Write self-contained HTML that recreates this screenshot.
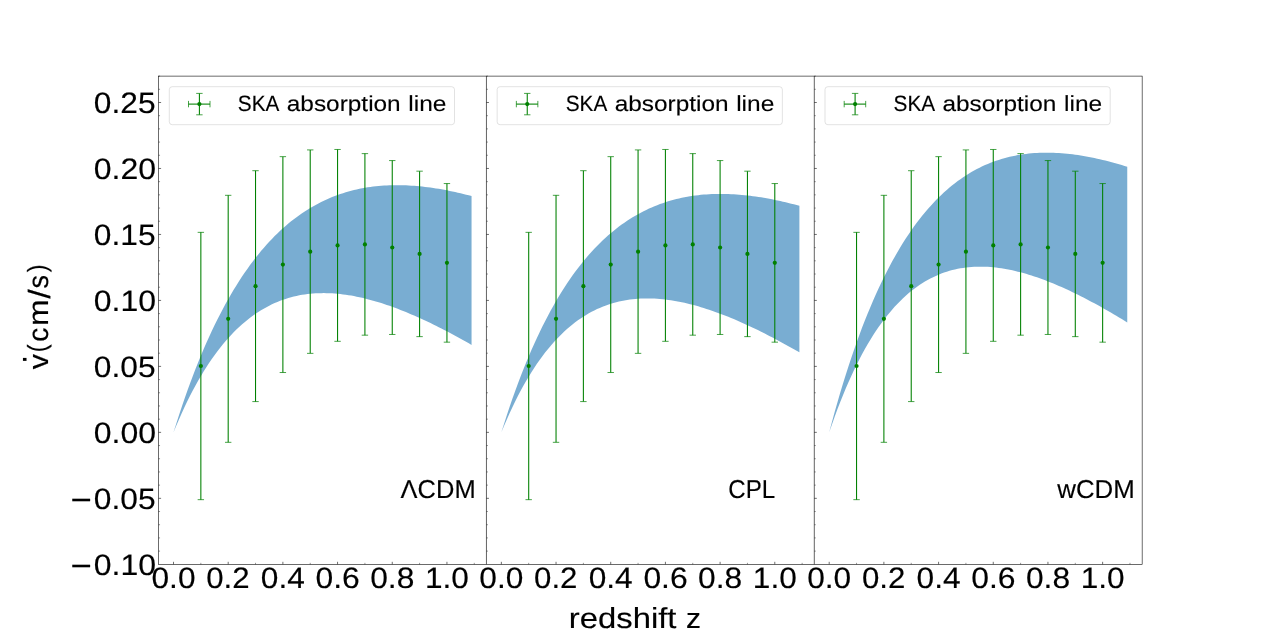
<!DOCTYPE html>
<html><head><meta charset="utf-8"><title>SKA absorption line</title>
<style>html,body{margin:0;padding:0;background:#fff;}body{width:1269px;height:634px;position:relative;overflow:hidden;will-change:transform;font-family:"Liberation Sans",sans-serif;}</style>
</head><body>
<svg width="1269" height="634" viewBox="0 0 1269 634" style="display:block;position:absolute;left:0;top:0;will-change:transform;text-rendering:geometricPrecision;font-family:'Liberation Sans',sans-serif">
<rect x="0" y="0" width="1269" height="634" fill="#ffffff"/>
<path d="M173.50 432.35 L176.24 423.63 L178.97 415.17 L181.71 406.95 L184.44 398.97 L187.17 391.23 L189.91 383.71 L192.64 376.42 L195.38 369.34 L198.11 362.47 L200.85 355.81 L203.58 349.34 L206.31 343.06 L209.05 336.98 L211.78 331.07 L214.52 325.34 L217.25 319.79 L219.99 314.40 L222.72 309.18 L225.46 304.11 L228.19 299.21 L230.92 294.45 L233.66 289.84 L236.39 285.38 L239.13 281.05 L241.86 276.86 L244.60 272.81 L247.33 268.88 L250.06 265.09 L252.80 261.41 L255.53 257.86 L258.27 254.42 L261.00 251.10 L263.74 247.88 L266.47 244.78 L269.20 241.79 L271.94 238.90 L274.67 236.11 L277.41 233.41 L280.14 230.82 L282.88 228.32 L285.61 225.91 L288.35 223.59 L291.08 221.36 L293.81 219.21 L296.55 217.15 L299.28 215.17 L302.02 213.27 L304.75 211.45 L307.49 209.70 L310.22 208.03 L312.95 206.43 L315.69 204.90 L318.42 203.44 L321.16 202.04 L323.89 200.72 L326.63 199.46 L329.36 198.26 L332.10 197.12 L334.83 196.04 L337.56 195.03 L340.30 194.07 L343.03 193.16 L345.77 192.31 L348.50 191.52 L351.24 190.78 L353.97 190.08 L356.70 189.44 L359.44 188.85 L362.17 188.31 L364.91 187.81 L367.64 187.36 L370.38 186.96 L373.11 186.59 L375.85 186.27 L378.58 186.00 L381.31 185.76 L384.05 185.57 L386.78 185.41 L389.52 185.29 L392.25 185.21 L394.99 185.17 L397.72 185.16 L400.45 185.19 L403.19 185.25 L405.92 185.35 L408.66 185.48 L411.39 185.64 L414.13 185.83 L416.86 186.05 L419.59 186.31 L422.33 186.59 L425.06 186.90 L427.80 187.24 L430.53 187.61 L433.27 188.00 L436.00 188.42 L438.74 188.87 L441.47 189.34 L444.20 189.84 L446.94 190.36 L449.67 190.91 L452.41 191.48 L455.14 192.07 L457.88 192.68 L460.61 193.32 L463.34 193.98 L466.08 194.66 L468.81 195.35 L471.55 196.07 L471.55 344.88 L468.81 343.32 L466.08 341.78 L463.34 340.25 L460.61 338.73 L457.88 337.23 L455.14 335.74 L452.41 334.27 L449.67 332.81 L446.94 331.37 L444.20 329.95 L441.47 328.55 L438.74 327.16 L436.00 325.80 L433.27 324.45 L430.53 323.12 L427.80 321.81 L425.06 320.52 L422.33 319.25 L419.59 318.00 L416.86 316.78 L414.13 315.58 L411.39 314.40 L408.66 313.24 L405.92 312.11 L403.19 311.00 L400.45 309.92 L397.72 308.86 L394.99 307.83 L392.25 306.83 L389.52 305.86 L386.78 304.91 L384.05 304.00 L381.31 303.11 L378.58 302.26 L375.85 301.44 L373.11 300.65 L370.38 299.89 L367.64 299.17 L364.91 298.49 L362.17 297.84 L359.44 297.23 L356.70 296.65 L353.97 296.12 L351.24 295.62 L348.50 295.17 L345.77 294.75 L343.03 294.38 L340.30 294.06 L337.56 293.78 L334.83 293.55 L332.10 293.36 L329.36 293.23 L326.63 293.14 L323.89 293.11 L321.16 293.13 L318.42 293.20 L315.69 293.33 L312.95 293.52 L310.22 293.77 L307.49 294.07 L304.75 294.44 L302.02 294.87 L299.28 295.37 L296.55 295.94 L293.81 296.57 L291.08 297.27 L288.35 298.05 L285.61 298.90 L282.88 299.83 L280.14 300.84 L277.41 301.93 L274.67 303.10 L271.94 304.35 L269.20 305.69 L266.47 307.13 L263.74 308.65 L261.00 310.27 L258.27 311.99 L255.53 313.81 L252.80 315.73 L250.06 317.75 L247.33 319.89 L244.60 322.13 L241.86 324.49 L239.13 326.97 L236.39 329.57 L233.66 332.30 L230.92 335.15 L228.19 338.14 L225.46 341.26 L222.72 344.52 L219.99 347.92 L217.25 351.47 L214.52 355.18 L211.78 359.04 L209.05 363.06 L206.31 367.24 L203.58 371.60 L200.85 376.13 L198.11 380.84 L195.38 385.74 L192.64 390.84 L189.91 396.12 L187.17 401.62 L184.44 407.32 L181.71 413.24 L178.97 419.38 L176.24 425.75 L173.50 432.35 Z" fill="#1f77b4" fill-opacity="0.6" stroke="none"/>
<g stroke="#008000" fill="none"><line x1="200.85" y1="232.35" x2="200.85" y2="499.67" stroke-width="1.07"/><line x1="197.65" y1="232.35" x2="204.05" y2="232.35" stroke-width="0.72"/><line x1="197.65" y1="499.67" x2="204.05" y2="499.67" stroke-width="0.72"/><circle cx="200.85" cy="366.01" r="2.1" fill="#008000" stroke="none"/><line x1="228.19" y1="195.32" x2="228.19" y2="442.32" stroke-width="1.07"/><line x1="224.99" y1="195.32" x2="231.39" y2="195.32" stroke-width="0.72"/><line x1="224.99" y1="442.32" x2="231.39" y2="442.32" stroke-width="0.72"/><circle cx="228.19" cy="318.82" r="2.1" fill="#008000" stroke="none"/><line x1="255.53" y1="170.69" x2="255.53" y2="401.59" stroke-width="1.07"/><line x1="252.33" y1="170.69" x2="258.73" y2="170.69" stroke-width="0.72"/><line x1="252.33" y1="401.59" x2="258.73" y2="401.59" stroke-width="0.72"/><circle cx="255.53" cy="286.14" r="2.1" fill="#008000" stroke="none"/><line x1="282.88" y1="156.65" x2="282.88" y2="372.52" stroke-width="1.07"/><line x1="279.68" y1="156.65" x2="286.08" y2="156.65" stroke-width="0.72"/><line x1="279.68" y1="372.52" x2="286.08" y2="372.52" stroke-width="0.72"/><circle cx="282.88" cy="264.59" r="2.1" fill="#008000" stroke="none"/><line x1="310.22" y1="149.91" x2="310.22" y2="353.37" stroke-width="1.07"/><line x1="307.02" y1="149.91" x2="313.42" y2="149.91" stroke-width="0.72"/><line x1="307.02" y1="353.37" x2="313.42" y2="353.37" stroke-width="0.72"/><circle cx="310.22" cy="251.64" r="2.1" fill="#008000" stroke="none"/><line x1="337.56" y1="149.47" x2="337.56" y2="341.32" stroke-width="1.07"/><line x1="334.36" y1="149.47" x2="340.76" y2="149.47" stroke-width="0.72"/><line x1="334.36" y1="341.32" x2="340.76" y2="341.32" stroke-width="0.72"/><circle cx="337.56" cy="245.40" r="2.1" fill="#008000" stroke="none"/><line x1="364.91" y1="153.62" x2="364.91" y2="335.18" stroke-width="1.07"/><line x1="361.71" y1="153.62" x2="368.11" y2="153.62" stroke-width="0.72"/><line x1="361.71" y1="335.18" x2="368.11" y2="335.18" stroke-width="0.72"/><circle cx="364.91" cy="244.40" r="2.1" fill="#008000" stroke="none"/><line x1="392.25" y1="160.57" x2="392.25" y2="334.48" stroke-width="1.07"/><line x1="389.05" y1="160.57" x2="395.45" y2="160.57" stroke-width="0.72"/><line x1="389.05" y1="334.48" x2="395.45" y2="334.48" stroke-width="0.72"/><circle cx="392.25" cy="247.52" r="2.1" fill="#008000" stroke="none"/><line x1="419.59" y1="171.18" x2="419.59" y2="336.64" stroke-width="1.07"/><line x1="416.39" y1="171.18" x2="422.79" y2="171.18" stroke-width="0.72"/><line x1="416.39" y1="336.64" x2="422.79" y2="336.64" stroke-width="0.72"/><circle cx="419.59" cy="253.91" r="2.1" fill="#008000" stroke="none"/><line x1="446.94" y1="183.56" x2="446.94" y2="342.16" stroke-width="1.07"/><line x1="443.74" y1="183.56" x2="450.14" y2="183.56" stroke-width="0.72"/><line x1="443.74" y1="342.16" x2="450.14" y2="342.16" stroke-width="0.72"/><circle cx="446.94" cy="262.86" r="2.1" fill="#008000" stroke="none"/></g>
<path d="M501.35 432.35 L504.09 423.64 L506.82 415.20 L509.56 407.01 L512.29 399.08 L515.02 391.40 L517.76 383.96 L520.49 376.74 L523.23 369.75 L525.96 362.98 L528.70 356.42 L531.43 350.06 L534.16 343.90 L536.90 337.94 L539.63 332.16 L542.37 326.56 L545.10 321.14 L547.84 315.89 L550.57 310.81 L553.31 305.88 L556.04 301.12 L558.77 296.51 L561.51 292.05 L564.24 287.73 L566.98 283.56 L569.71 279.52 L572.45 275.62 L575.18 271.84 L577.91 268.19 L580.65 264.67 L583.38 261.26 L586.12 257.98 L588.85 254.80 L591.59 251.74 L594.32 248.78 L597.05 245.93 L599.79 243.18 L602.52 240.54 L605.26 237.99 L607.99 235.53 L610.73 233.17 L613.46 230.89 L616.20 228.71 L618.93 226.61 L621.66 224.59 L624.40 222.66 L627.13 220.81 L629.87 219.03 L632.60 217.33 L635.34 215.70 L638.07 214.15 L640.80 212.66 L643.54 211.25 L646.27 209.90 L649.01 208.62 L651.74 207.40 L654.48 206.24 L657.21 205.14 L659.95 204.11 L662.68 203.13 L665.41 202.21 L668.15 201.34 L670.88 200.53 L673.62 199.77 L676.35 199.07 L679.09 198.41 L681.82 197.81 L684.55 197.25 L687.29 196.74 L690.02 196.27 L692.76 195.85 L695.49 195.47 L698.23 195.14 L700.96 194.85 L703.70 194.60 L706.43 194.39 L709.16 194.22 L711.90 194.08 L714.63 193.99 L717.37 193.93 L720.10 193.91 L722.84 193.92 L725.57 193.96 L728.30 194.04 L731.04 194.16 L733.77 194.30 L736.51 194.48 L739.24 194.69 L741.98 194.92 L744.71 195.19 L747.44 195.48 L750.18 195.81 L752.91 196.16 L755.65 196.53 L758.38 196.94 L761.12 197.37 L763.85 197.82 L766.59 198.30 L769.32 198.80 L772.05 199.33 L774.79 199.88 L777.52 200.45 L780.26 201.05 L782.99 201.66 L785.73 202.30 L788.46 202.96 L791.19 203.63 L793.93 204.33 L796.66 205.05 L799.40 205.79 L799.40 352.37 L796.66 350.80 L793.93 349.24 L791.19 347.70 L788.46 346.17 L785.73 344.66 L782.99 343.16 L780.26 341.67 L777.52 340.20 L774.79 338.75 L772.05 337.31 L769.32 335.89 L766.59 334.48 L763.85 333.09 L761.12 331.73 L758.38 330.37 L755.65 329.04 L752.91 327.73 L750.18 326.43 L747.44 325.16 L744.71 323.91 L741.98 322.68 L739.24 321.47 L736.51 320.28 L733.77 319.12 L731.04 317.98 L728.30 316.86 L725.57 315.77 L722.84 314.70 L720.10 313.66 L717.37 312.65 L714.63 311.67 L711.90 310.71 L709.16 309.78 L706.43 308.88 L703.70 308.01 L700.96 307.17 L698.23 306.37 L695.49 305.60 L692.76 304.86 L690.02 304.15 L687.29 303.48 L684.55 302.85 L681.82 302.26 L679.09 301.70 L676.35 301.18 L673.62 300.71 L670.88 300.27 L668.15 299.88 L665.41 299.53 L662.68 299.23 L659.95 298.97 L657.21 298.76 L654.48 298.59 L651.74 298.48 L649.01 298.42 L646.27 298.41 L643.54 298.46 L640.80 298.56 L638.07 298.72 L635.34 298.93 L632.60 299.21 L629.87 299.55 L627.13 299.95 L624.40 300.42 L621.66 300.95 L618.93 301.56 L616.20 302.23 L613.46 302.98 L610.73 303.80 L607.99 304.70 L605.26 305.68 L602.52 306.74 L599.79 307.88 L597.05 309.11 L594.32 310.43 L591.59 311.84 L588.85 313.34 L586.12 314.94 L583.38 316.63 L580.65 318.43 L577.91 320.34 L575.18 322.35 L572.45 324.47 L569.71 326.71 L566.98 329.07 L564.24 331.55 L561.51 334.15 L558.77 336.88 L556.04 339.75 L553.31 342.75 L550.57 345.89 L547.84 349.18 L545.10 352.61 L542.37 356.21 L539.63 359.96 L536.90 363.87 L534.16 367.96 L531.43 372.22 L528.70 376.66 L525.96 381.28 L523.23 386.10 L520.49 391.11 L517.76 396.33 L515.02 401.77 L512.29 407.42 L509.56 413.29 L506.82 419.40 L504.09 425.75 L501.35 432.35 Z" fill="#1f77b4" fill-opacity="0.6" stroke="none"/>
<g stroke="#008000" fill="none"><line x1="528.70" y1="232.35" x2="528.70" y2="499.67" stroke-width="1.07"/><line x1="525.50" y1="232.35" x2="531.90" y2="232.35" stroke-width="0.72"/><line x1="525.50" y1="499.67" x2="531.90" y2="499.67" stroke-width="0.72"/><circle cx="528.70" cy="366.01" r="2.1" fill="#008000" stroke="none"/><line x1="556.04" y1="195.32" x2="556.04" y2="442.32" stroke-width="1.07"/><line x1="552.84" y1="195.32" x2="559.24" y2="195.32" stroke-width="0.72"/><line x1="552.84" y1="442.32" x2="559.24" y2="442.32" stroke-width="0.72"/><circle cx="556.04" cy="318.82" r="2.1" fill="#008000" stroke="none"/><line x1="583.38" y1="170.69" x2="583.38" y2="401.59" stroke-width="1.07"/><line x1="580.18" y1="170.69" x2="586.58" y2="170.69" stroke-width="0.72"/><line x1="580.18" y1="401.59" x2="586.58" y2="401.59" stroke-width="0.72"/><circle cx="583.38" cy="286.14" r="2.1" fill="#008000" stroke="none"/><line x1="610.73" y1="156.65" x2="610.73" y2="372.52" stroke-width="1.07"/><line x1="607.53" y1="156.65" x2="613.93" y2="156.65" stroke-width="0.72"/><line x1="607.53" y1="372.52" x2="613.93" y2="372.52" stroke-width="0.72"/><circle cx="610.73" cy="264.59" r="2.1" fill="#008000" stroke="none"/><line x1="638.07" y1="149.91" x2="638.07" y2="353.37" stroke-width="1.07"/><line x1="634.87" y1="149.91" x2="641.27" y2="149.91" stroke-width="0.72"/><line x1="634.87" y1="353.37" x2="641.27" y2="353.37" stroke-width="0.72"/><circle cx="638.07" cy="251.64" r="2.1" fill="#008000" stroke="none"/><line x1="665.41" y1="149.47" x2="665.41" y2="341.32" stroke-width="1.07"/><line x1="662.21" y1="149.47" x2="668.61" y2="149.47" stroke-width="0.72"/><line x1="662.21" y1="341.32" x2="668.61" y2="341.32" stroke-width="0.72"/><circle cx="665.41" cy="245.40" r="2.1" fill="#008000" stroke="none"/><line x1="692.76" y1="153.62" x2="692.76" y2="335.18" stroke-width="1.07"/><line x1="689.56" y1="153.62" x2="695.96" y2="153.62" stroke-width="0.72"/><line x1="689.56" y1="335.18" x2="695.96" y2="335.18" stroke-width="0.72"/><circle cx="692.76" cy="244.40" r="2.1" fill="#008000" stroke="none"/><line x1="720.10" y1="160.57" x2="720.10" y2="334.48" stroke-width="1.07"/><line x1="716.90" y1="160.57" x2="723.30" y2="160.57" stroke-width="0.72"/><line x1="716.90" y1="334.48" x2="723.30" y2="334.48" stroke-width="0.72"/><circle cx="720.10" cy="247.52" r="2.1" fill="#008000" stroke="none"/><line x1="747.44" y1="171.18" x2="747.44" y2="336.64" stroke-width="1.07"/><line x1="744.24" y1="171.18" x2="750.64" y2="171.18" stroke-width="0.72"/><line x1="744.24" y1="336.64" x2="750.64" y2="336.64" stroke-width="0.72"/><circle cx="747.44" cy="253.91" r="2.1" fill="#008000" stroke="none"/><line x1="774.79" y1="183.56" x2="774.79" y2="342.16" stroke-width="1.07"/><line x1="771.59" y1="183.56" x2="777.99" y2="183.56" stroke-width="0.72"/><line x1="771.59" y1="342.16" x2="777.99" y2="342.16" stroke-width="0.72"/><circle cx="774.79" cy="262.86" r="2.1" fill="#008000" stroke="none"/></g>
<path d="M829.20 432.35 L831.94 422.07 L834.67 412.10 L837.41 402.44 L840.14 393.07 L842.87 384.00 L845.61 375.20 L848.34 366.68 L851.08 358.42 L853.81 350.41 L856.55 342.66 L859.28 335.15 L862.01 327.87 L864.75 320.82 L867.48 313.99 L870.22 307.38 L872.95 300.98 L875.69 294.78 L878.42 288.78 L881.16 282.97 L883.89 277.35 L886.62 271.91 L889.36 266.65 L892.09 261.56 L894.83 256.65 L897.56 251.89 L900.30 247.29 L903.03 242.85 L905.76 238.56 L908.50 234.42 L911.23 230.42 L913.97 226.56 L916.70 222.84 L919.44 219.24 L922.17 215.78 L924.90 212.44 L927.64 209.23 L930.37 206.13 L933.11 203.15 L935.84 200.28 L938.58 197.53 L941.31 194.88 L944.05 192.34 L946.78 189.89 L949.51 187.55 L952.25 185.31 L954.98 183.16 L957.72 181.10 L960.45 179.13 L963.19 177.25 L965.92 175.46 L968.65 173.74 L971.39 172.11 L974.12 170.56 L976.86 169.09 L979.59 167.69 L982.33 166.37 L985.06 165.12 L987.80 163.94 L990.53 162.82 L993.26 161.78 L996.00 160.80 L998.73 159.88 L1001.47 159.02 L1004.20 158.23 L1006.94 157.49 L1009.67 156.81 L1012.40 156.19 L1015.14 155.63 L1017.87 155.11 L1020.61 154.65 L1023.34 154.24 L1026.08 153.88 L1028.81 153.57 L1031.55 153.30 L1034.28 153.09 L1037.01 152.91 L1039.75 152.79 L1042.48 152.70 L1045.22 152.66 L1047.95 152.65 L1050.69 152.69 L1053.42 152.77 L1056.15 152.88 L1058.89 153.04 L1061.62 153.23 L1064.36 153.45 L1067.09 153.71 L1069.83 154.00 L1072.56 154.33 L1075.29 154.69 L1078.03 155.08 L1080.76 155.50 L1083.50 155.95 L1086.23 156.43 L1088.97 156.94 L1091.70 157.48 L1094.44 158.05 L1097.17 158.64 L1099.90 159.26 L1102.64 159.90 L1105.37 160.57 L1108.11 161.26 L1110.84 161.98 L1113.58 162.72 L1116.31 163.48 L1119.04 164.27 L1121.78 165.08 L1124.51 165.90 L1127.25 166.75 L1127.25 322.41 L1124.51 320.74 L1121.78 319.08 L1119.04 317.43 L1116.31 315.80 L1113.58 314.19 L1110.84 312.59 L1108.11 311.01 L1105.37 309.45 L1102.64 307.90 L1099.90 306.37 L1097.17 304.86 L1094.44 303.36 L1091.70 301.89 L1088.97 300.43 L1086.23 299.00 L1083.50 297.59 L1080.76 296.19 L1078.03 294.82 L1075.29 293.48 L1072.56 292.15 L1069.83 290.85 L1067.09 289.57 L1064.36 288.32 L1061.62 287.10 L1058.89 285.90 L1056.15 284.72 L1053.42 283.58 L1050.69 282.46 L1047.95 281.38 L1045.22 280.32 L1042.48 279.30 L1039.75 278.31 L1037.01 277.35 L1034.28 276.42 L1031.55 275.53 L1028.81 274.67 L1026.08 273.86 L1023.34 273.07 L1020.61 272.33 L1017.87 271.63 L1015.14 270.97 L1012.40 270.35 L1009.67 269.77 L1006.94 269.24 L1004.20 268.76 L1001.47 268.32 L998.73 267.92 L996.00 267.58 L993.26 267.29 L990.53 267.05 L987.80 266.87 L985.06 266.74 L982.33 266.67 L979.59 266.66 L976.86 266.70 L974.12 266.81 L971.39 266.98 L968.65 267.22 L965.92 267.52 L963.19 267.90 L960.45 268.34 L957.72 268.86 L954.98 269.45 L952.25 270.12 L949.51 270.87 L946.78 271.70 L944.05 272.62 L941.31 273.62 L938.58 274.71 L935.84 275.89 L933.11 277.17 L930.37 278.54 L927.64 280.01 L924.90 281.59 L922.17 283.27 L919.44 285.06 L916.70 286.96 L913.97 288.97 L911.23 291.11 L908.50 293.36 L905.76 295.74 L903.03 298.25 L900.30 300.90 L897.56 303.68 L894.83 306.60 L892.09 309.67 L889.36 312.88 L886.62 316.25 L883.89 319.78 L881.16 323.47 L878.42 327.33 L875.69 331.36 L872.95 335.58 L870.22 339.97 L867.48 344.56 L864.75 349.34 L862.01 354.32 L859.28 359.51 L856.55 364.92 L853.81 370.54 L851.08 376.40 L848.34 382.49 L845.61 388.82 L842.87 395.40 L840.14 402.24 L837.41 409.35 L834.67 416.73 L831.94 424.39 L829.20 432.35 Z" fill="#1f77b4" fill-opacity="0.6" stroke="none"/>
<g stroke="#008000" fill="none"><line x1="856.55" y1="232.35" x2="856.55" y2="499.67" stroke-width="1.07"/><line x1="853.35" y1="232.35" x2="859.75" y2="232.35" stroke-width="0.72"/><line x1="853.35" y1="499.67" x2="859.75" y2="499.67" stroke-width="0.72"/><circle cx="856.55" cy="366.01" r="2.1" fill="#008000" stroke="none"/><line x1="883.89" y1="195.32" x2="883.89" y2="442.32" stroke-width="1.07"/><line x1="880.69" y1="195.32" x2="887.09" y2="195.32" stroke-width="0.72"/><line x1="880.69" y1="442.32" x2="887.09" y2="442.32" stroke-width="0.72"/><circle cx="883.89" cy="318.82" r="2.1" fill="#008000" stroke="none"/><line x1="911.23" y1="170.69" x2="911.23" y2="401.59" stroke-width="1.07"/><line x1="908.03" y1="170.69" x2="914.43" y2="170.69" stroke-width="0.72"/><line x1="908.03" y1="401.59" x2="914.43" y2="401.59" stroke-width="0.72"/><circle cx="911.23" cy="286.14" r="2.1" fill="#008000" stroke="none"/><line x1="938.58" y1="156.65" x2="938.58" y2="372.52" stroke-width="1.07"/><line x1="935.38" y1="156.65" x2="941.78" y2="156.65" stroke-width="0.72"/><line x1="935.38" y1="372.52" x2="941.78" y2="372.52" stroke-width="0.72"/><circle cx="938.58" cy="264.59" r="2.1" fill="#008000" stroke="none"/><line x1="965.92" y1="149.91" x2="965.92" y2="353.37" stroke-width="1.07"/><line x1="962.72" y1="149.91" x2="969.12" y2="149.91" stroke-width="0.72"/><line x1="962.72" y1="353.37" x2="969.12" y2="353.37" stroke-width="0.72"/><circle cx="965.92" cy="251.64" r="2.1" fill="#008000" stroke="none"/><line x1="993.26" y1="149.47" x2="993.26" y2="341.32" stroke-width="1.07"/><line x1="990.06" y1="149.47" x2="996.46" y2="149.47" stroke-width="0.72"/><line x1="990.06" y1="341.32" x2="996.46" y2="341.32" stroke-width="0.72"/><circle cx="993.26" cy="245.40" r="2.1" fill="#008000" stroke="none"/><line x1="1020.61" y1="153.62" x2="1020.61" y2="335.18" stroke-width="1.07"/><line x1="1017.41" y1="153.62" x2="1023.81" y2="153.62" stroke-width="0.72"/><line x1="1017.41" y1="335.18" x2="1023.81" y2="335.18" stroke-width="0.72"/><circle cx="1020.61" cy="244.40" r="2.1" fill="#008000" stroke="none"/><line x1="1047.95" y1="160.57" x2="1047.95" y2="334.48" stroke-width="1.07"/><line x1="1044.75" y1="160.57" x2="1051.15" y2="160.57" stroke-width="0.72"/><line x1="1044.75" y1="334.48" x2="1051.15" y2="334.48" stroke-width="0.72"/><circle cx="1047.95" cy="247.52" r="2.1" fill="#008000" stroke="none"/><line x1="1075.29" y1="171.18" x2="1075.29" y2="336.64" stroke-width="1.07"/><line x1="1072.09" y1="171.18" x2="1078.49" y2="171.18" stroke-width="0.72"/><line x1="1072.09" y1="336.64" x2="1078.49" y2="336.64" stroke-width="0.72"/><circle cx="1075.29" cy="253.91" r="2.1" fill="#008000" stroke="none"/><line x1="1102.64" y1="183.56" x2="1102.64" y2="342.16" stroke-width="1.07"/><line x1="1099.44" y1="183.56" x2="1105.84" y2="183.56" stroke-width="0.72"/><line x1="1099.44" y1="342.16" x2="1105.84" y2="342.16" stroke-width="0.72"/><circle cx="1102.64" cy="262.86" r="2.1" fill="#008000" stroke="none"/></g>
<g stroke="#000" fill="none"><line x1="158.60" y1="551.11" x2="160.05" y2="551.11" stroke-width="0.43"/><line x1="158.60" y1="537.91" x2="160.05" y2="537.91" stroke-width="0.43"/><line x1="158.60" y1="524.72" x2="160.05" y2="524.72" stroke-width="0.43"/><line x1="158.60" y1="511.52" x2="160.05" y2="511.52" stroke-width="0.43"/><line x1="158.60" y1="498.33" x2="161.10" y2="498.33" stroke-width="0.57"/><line x1="158.60" y1="485.13" x2="160.05" y2="485.13" stroke-width="0.43"/><line x1="158.60" y1="471.94" x2="160.05" y2="471.94" stroke-width="0.43"/><line x1="158.60" y1="458.74" x2="160.05" y2="458.74" stroke-width="0.43"/><line x1="158.60" y1="445.55" x2="160.05" y2="445.55" stroke-width="0.43"/><line x1="158.60" y1="432.35" x2="161.10" y2="432.35" stroke-width="0.57"/><line x1="158.60" y1="419.16" x2="160.05" y2="419.16" stroke-width="0.43"/><line x1="158.60" y1="405.96" x2="160.05" y2="405.96" stroke-width="0.43"/><line x1="158.60" y1="392.77" x2="160.05" y2="392.77" stroke-width="0.43"/><line x1="158.60" y1="379.58" x2="160.05" y2="379.58" stroke-width="0.43"/><line x1="158.60" y1="366.38" x2="161.10" y2="366.38" stroke-width="0.57"/><line x1="158.60" y1="353.19" x2="160.05" y2="353.19" stroke-width="0.43"/><line x1="158.60" y1="339.99" x2="160.05" y2="339.99" stroke-width="0.43"/><line x1="158.60" y1="326.80" x2="160.05" y2="326.80" stroke-width="0.43"/><line x1="158.60" y1="313.60" x2="160.05" y2="313.60" stroke-width="0.43"/><line x1="158.60" y1="300.41" x2="161.10" y2="300.41" stroke-width="0.57"/><line x1="158.60" y1="287.21" x2="160.05" y2="287.21" stroke-width="0.43"/><line x1="158.60" y1="274.02" x2="160.05" y2="274.02" stroke-width="0.43"/><line x1="158.60" y1="260.82" x2="160.05" y2="260.82" stroke-width="0.43"/><line x1="158.60" y1="247.63" x2="160.05" y2="247.63" stroke-width="0.43"/><line x1="158.60" y1="234.44" x2="161.10" y2="234.44" stroke-width="0.57"/><line x1="158.60" y1="221.24" x2="160.05" y2="221.24" stroke-width="0.43"/><line x1="158.60" y1="208.05" x2="160.05" y2="208.05" stroke-width="0.43"/><line x1="158.60" y1="194.85" x2="160.05" y2="194.85" stroke-width="0.43"/><line x1="158.60" y1="181.66" x2="160.05" y2="181.66" stroke-width="0.43"/><line x1="158.60" y1="168.46" x2="161.10" y2="168.46" stroke-width="0.57"/><line x1="158.60" y1="155.27" x2="160.05" y2="155.27" stroke-width="0.43"/><line x1="158.60" y1="142.07" x2="160.05" y2="142.07" stroke-width="0.43"/><line x1="158.60" y1="128.88" x2="160.05" y2="128.88" stroke-width="0.43"/><line x1="158.60" y1="115.68" x2="160.05" y2="115.68" stroke-width="0.43"/><line x1="158.60" y1="102.49" x2="161.10" y2="102.49" stroke-width="0.57"/><line x1="158.60" y1="89.29" x2="160.05" y2="89.29" stroke-width="0.43"/><line x1="158.60" y1="76.10" x2="160.05" y2="76.10" stroke-width="0.43"/><line x1="173.50" y1="564.30" x2="173.50" y2="561.80" stroke-width="0.57"/><line x1="200.85" y1="564.30" x2="200.85" y2="562.85" stroke-width="0.43"/><line x1="228.19" y1="564.30" x2="228.19" y2="561.80" stroke-width="0.57"/><line x1="255.53" y1="564.30" x2="255.53" y2="562.85" stroke-width="0.43"/><line x1="282.88" y1="564.30" x2="282.88" y2="561.80" stroke-width="0.57"/><line x1="310.22" y1="564.30" x2="310.22" y2="562.85" stroke-width="0.43"/><line x1="337.56" y1="564.30" x2="337.56" y2="561.80" stroke-width="0.57"/><line x1="364.91" y1="564.30" x2="364.91" y2="562.85" stroke-width="0.43"/><line x1="392.25" y1="564.30" x2="392.25" y2="561.80" stroke-width="0.57"/><line x1="419.59" y1="564.30" x2="419.59" y2="562.85" stroke-width="0.43"/><line x1="446.94" y1="564.30" x2="446.94" y2="561.80" stroke-width="0.57"/><line x1="474.28" y1="564.30" x2="474.28" y2="562.85" stroke-width="0.43"/><line x1="486.45" y1="551.11" x2="487.90" y2="551.11" stroke-width="0.43"/><line x1="486.45" y1="537.91" x2="487.90" y2="537.91" stroke-width="0.43"/><line x1="486.45" y1="524.72" x2="487.90" y2="524.72" stroke-width="0.43"/><line x1="486.45" y1="511.52" x2="487.90" y2="511.52" stroke-width="0.43"/><line x1="486.45" y1="498.33" x2="488.95" y2="498.33" stroke-width="0.57"/><line x1="486.45" y1="485.13" x2="487.90" y2="485.13" stroke-width="0.43"/><line x1="486.45" y1="471.94" x2="487.90" y2="471.94" stroke-width="0.43"/><line x1="486.45" y1="458.74" x2="487.90" y2="458.74" stroke-width="0.43"/><line x1="486.45" y1="445.55" x2="487.90" y2="445.55" stroke-width="0.43"/><line x1="486.45" y1="432.35" x2="488.95" y2="432.35" stroke-width="0.57"/><line x1="486.45" y1="419.16" x2="487.90" y2="419.16" stroke-width="0.43"/><line x1="486.45" y1="405.96" x2="487.90" y2="405.96" stroke-width="0.43"/><line x1="486.45" y1="392.77" x2="487.90" y2="392.77" stroke-width="0.43"/><line x1="486.45" y1="379.58" x2="487.90" y2="379.58" stroke-width="0.43"/><line x1="486.45" y1="366.38" x2="488.95" y2="366.38" stroke-width="0.57"/><line x1="486.45" y1="353.19" x2="487.90" y2="353.19" stroke-width="0.43"/><line x1="486.45" y1="339.99" x2="487.90" y2="339.99" stroke-width="0.43"/><line x1="486.45" y1="326.80" x2="487.90" y2="326.80" stroke-width="0.43"/><line x1="486.45" y1="313.60" x2="487.90" y2="313.60" stroke-width="0.43"/><line x1="486.45" y1="300.41" x2="488.95" y2="300.41" stroke-width="0.57"/><line x1="486.45" y1="287.21" x2="487.90" y2="287.21" stroke-width="0.43"/><line x1="486.45" y1="274.02" x2="487.90" y2="274.02" stroke-width="0.43"/><line x1="486.45" y1="260.82" x2="487.90" y2="260.82" stroke-width="0.43"/><line x1="486.45" y1="247.63" x2="487.90" y2="247.63" stroke-width="0.43"/><line x1="486.45" y1="234.44" x2="488.95" y2="234.44" stroke-width="0.57"/><line x1="486.45" y1="221.24" x2="487.90" y2="221.24" stroke-width="0.43"/><line x1="486.45" y1="208.05" x2="487.90" y2="208.05" stroke-width="0.43"/><line x1="486.45" y1="194.85" x2="487.90" y2="194.85" stroke-width="0.43"/><line x1="486.45" y1="181.66" x2="487.90" y2="181.66" stroke-width="0.43"/><line x1="486.45" y1="168.46" x2="488.95" y2="168.46" stroke-width="0.57"/><line x1="486.45" y1="155.27" x2="487.90" y2="155.27" stroke-width="0.43"/><line x1="486.45" y1="142.07" x2="487.90" y2="142.07" stroke-width="0.43"/><line x1="486.45" y1="128.88" x2="487.90" y2="128.88" stroke-width="0.43"/><line x1="486.45" y1="115.68" x2="487.90" y2="115.68" stroke-width="0.43"/><line x1="486.45" y1="102.49" x2="488.95" y2="102.49" stroke-width="0.57"/><line x1="486.45" y1="89.29" x2="487.90" y2="89.29" stroke-width="0.43"/><line x1="486.45" y1="76.10" x2="487.90" y2="76.10" stroke-width="0.43"/><line x1="501.35" y1="564.30" x2="501.35" y2="561.80" stroke-width="0.57"/><line x1="528.70" y1="564.30" x2="528.70" y2="562.85" stroke-width="0.43"/><line x1="556.04" y1="564.30" x2="556.04" y2="561.80" stroke-width="0.57"/><line x1="583.38" y1="564.30" x2="583.38" y2="562.85" stroke-width="0.43"/><line x1="610.73" y1="564.30" x2="610.73" y2="561.80" stroke-width="0.57"/><line x1="638.07" y1="564.30" x2="638.07" y2="562.85" stroke-width="0.43"/><line x1="665.41" y1="564.30" x2="665.41" y2="561.80" stroke-width="0.57"/><line x1="692.76" y1="564.30" x2="692.76" y2="562.85" stroke-width="0.43"/><line x1="720.10" y1="564.30" x2="720.10" y2="561.80" stroke-width="0.57"/><line x1="747.44" y1="564.30" x2="747.44" y2="562.85" stroke-width="0.43"/><line x1="774.79" y1="564.30" x2="774.79" y2="561.80" stroke-width="0.57"/><line x1="802.13" y1="564.30" x2="802.13" y2="562.85" stroke-width="0.43"/><line x1="814.30" y1="551.11" x2="815.75" y2="551.11" stroke-width="0.43"/><line x1="814.30" y1="537.91" x2="815.75" y2="537.91" stroke-width="0.43"/><line x1="814.30" y1="524.72" x2="815.75" y2="524.72" stroke-width="0.43"/><line x1="814.30" y1="511.52" x2="815.75" y2="511.52" stroke-width="0.43"/><line x1="814.30" y1="498.33" x2="816.80" y2="498.33" stroke-width="0.57"/><line x1="814.30" y1="485.13" x2="815.75" y2="485.13" stroke-width="0.43"/><line x1="814.30" y1="471.94" x2="815.75" y2="471.94" stroke-width="0.43"/><line x1="814.30" y1="458.74" x2="815.75" y2="458.74" stroke-width="0.43"/><line x1="814.30" y1="445.55" x2="815.75" y2="445.55" stroke-width="0.43"/><line x1="814.30" y1="432.35" x2="816.80" y2="432.35" stroke-width="0.57"/><line x1="814.30" y1="419.16" x2="815.75" y2="419.16" stroke-width="0.43"/><line x1="814.30" y1="405.96" x2="815.75" y2="405.96" stroke-width="0.43"/><line x1="814.30" y1="392.77" x2="815.75" y2="392.77" stroke-width="0.43"/><line x1="814.30" y1="379.58" x2="815.75" y2="379.58" stroke-width="0.43"/><line x1="814.30" y1="366.38" x2="816.80" y2="366.38" stroke-width="0.57"/><line x1="814.30" y1="353.19" x2="815.75" y2="353.19" stroke-width="0.43"/><line x1="814.30" y1="339.99" x2="815.75" y2="339.99" stroke-width="0.43"/><line x1="814.30" y1="326.80" x2="815.75" y2="326.80" stroke-width="0.43"/><line x1="814.30" y1="313.60" x2="815.75" y2="313.60" stroke-width="0.43"/><line x1="814.30" y1="300.41" x2="816.80" y2="300.41" stroke-width="0.57"/><line x1="814.30" y1="287.21" x2="815.75" y2="287.21" stroke-width="0.43"/><line x1="814.30" y1="274.02" x2="815.75" y2="274.02" stroke-width="0.43"/><line x1="814.30" y1="260.82" x2="815.75" y2="260.82" stroke-width="0.43"/><line x1="814.30" y1="247.63" x2="815.75" y2="247.63" stroke-width="0.43"/><line x1="814.30" y1="234.44" x2="816.80" y2="234.44" stroke-width="0.57"/><line x1="814.30" y1="221.24" x2="815.75" y2="221.24" stroke-width="0.43"/><line x1="814.30" y1="208.05" x2="815.75" y2="208.05" stroke-width="0.43"/><line x1="814.30" y1="194.85" x2="815.75" y2="194.85" stroke-width="0.43"/><line x1="814.30" y1="181.66" x2="815.75" y2="181.66" stroke-width="0.43"/><line x1="814.30" y1="168.46" x2="816.80" y2="168.46" stroke-width="0.57"/><line x1="814.30" y1="155.27" x2="815.75" y2="155.27" stroke-width="0.43"/><line x1="814.30" y1="142.07" x2="815.75" y2="142.07" stroke-width="0.43"/><line x1="814.30" y1="128.88" x2="815.75" y2="128.88" stroke-width="0.43"/><line x1="814.30" y1="115.68" x2="815.75" y2="115.68" stroke-width="0.43"/><line x1="814.30" y1="102.49" x2="816.80" y2="102.49" stroke-width="0.57"/><line x1="814.30" y1="89.29" x2="815.75" y2="89.29" stroke-width="0.43"/><line x1="814.30" y1="76.10" x2="815.75" y2="76.10" stroke-width="0.43"/><line x1="829.20" y1="564.30" x2="829.20" y2="561.80" stroke-width="0.57"/><line x1="856.55" y1="564.30" x2="856.55" y2="562.85" stroke-width="0.43"/><line x1="883.89" y1="564.30" x2="883.89" y2="561.80" stroke-width="0.57"/><line x1="911.23" y1="564.30" x2="911.23" y2="562.85" stroke-width="0.43"/><line x1="938.58" y1="564.30" x2="938.58" y2="561.80" stroke-width="0.57"/><line x1="965.92" y1="564.30" x2="965.92" y2="562.85" stroke-width="0.43"/><line x1="993.26" y1="564.30" x2="993.26" y2="561.80" stroke-width="0.57"/><line x1="1020.61" y1="564.30" x2="1020.61" y2="562.85" stroke-width="0.43"/><line x1="1047.95" y1="564.30" x2="1047.95" y2="561.80" stroke-width="0.57"/><line x1="1075.29" y1="564.30" x2="1075.29" y2="562.85" stroke-width="0.43"/><line x1="1102.64" y1="564.30" x2="1102.64" y2="561.80" stroke-width="0.57"/><line x1="1129.98" y1="564.30" x2="1129.98" y2="562.85" stroke-width="0.43"/></g>
<g stroke="#000" fill="none"><rect x="158.60" y="76.10" width="983.55" height="488.20" stroke-width="0.58"/><line x1="486.45" y1="76.10" x2="486.45" y2="564.30" stroke-width="0.62"/><line x1="814.30" y1="76.10" x2="814.30" y2="564.30" stroke-width="0.62"/></g>
<rect x="169.30" y="86.7" width="285.2" height="38.0" rx="2.9" ry="2.9" fill="#fff" fill-opacity="0.8" stroke="#cccccc" stroke-opacity="0.8" stroke-width="0.72"/>
<g stroke="#008000" fill="none"><line x1="188.50" y1="104.1" x2="210.00" y2="104.1" stroke-width="1.07"/><line x1="199.40" y1="93.39999999999999" x2="199.40" y2="114.8" stroke-width="1.07"/><line x1="188.50" y1="100.89999999999999" x2="188.50" y2="107.3" stroke-width="0.72"/><line x1="210.00" y1="100.89999999999999" x2="210.00" y2="107.3" stroke-width="0.72"/><line x1="196.20" y1="93.39999999999999" x2="202.60" y2="93.39999999999999" stroke-width="0.72"/><line x1="196.20" y1="114.8" x2="202.60" y2="114.8" stroke-width="0.72"/><circle cx="199.40" cy="104.1" r="2.1" fill="#008000" stroke="none"/></g>
<g aria-label="SKA absorption line">
<text transform="matrix(0.9697 0 0 1.0333 237.82 111.42)" font-size="21.45" fill="#000" stroke="#000" stroke-width="0.129" stroke-linejoin="round">SKA</text>
<text transform="matrix(1.1377 0 0 1.0060 286.78 111.26)" font-size="21.45" fill="#000" stroke="#000" stroke-width="0.120" stroke-linejoin="round">absorption</text>
<text transform="matrix(1.1429 0 0 1.0195 408.29 111.42)" font-size="21.45" fill="#000" stroke="#000" stroke-width="0.119" stroke-linejoin="round">line</text>
</g>
<g aria-label="ΛCDM">
<text transform="matrix(1.0158 0 0 1.0333 400.55 497.69)" font-size="25.1" fill="#000" stroke="#000" stroke-width="0.147" stroke-linejoin="round">ΛCDM</text>
</g>
<rect x="497.15" y="86.7" width="285.2" height="38.0" rx="2.9" ry="2.9" fill="#fff" fill-opacity="0.8" stroke="#cccccc" stroke-opacity="0.8" stroke-width="0.72"/>
<g stroke="#008000" fill="none"><line x1="516.35" y1="104.1" x2="537.85" y2="104.1" stroke-width="1.07"/><line x1="527.25" y1="93.39999999999999" x2="527.25" y2="114.8" stroke-width="1.07"/><line x1="516.35" y1="100.89999999999999" x2="516.35" y2="107.3" stroke-width="0.72"/><line x1="537.85" y1="100.89999999999999" x2="537.85" y2="107.3" stroke-width="0.72"/><line x1="524.05" y1="93.39999999999999" x2="530.45" y2="93.39999999999999" stroke-width="0.72"/><line x1="524.05" y1="114.8" x2="530.45" y2="114.8" stroke-width="0.72"/><circle cx="527.25" cy="104.1" r="2.1" fill="#008000" stroke="none"/></g>
<g aria-label="SKA absorption line">
<text transform="matrix(0.9697 0 0 1.0333 565.67 111.42)" font-size="21.45" fill="#000" stroke="#000" stroke-width="0.129" stroke-linejoin="round">SKA</text>
<text transform="matrix(1.1377 0 0 1.0060 614.63 111.26)" font-size="21.45" fill="#000" stroke="#000" stroke-width="0.120" stroke-linejoin="round">absorption</text>
<text transform="matrix(1.1429 0 0 1.0195 736.14 111.42)" font-size="21.45" fill="#000" stroke="#000" stroke-width="0.119" stroke-linejoin="round">line</text>
</g>
<g aria-label="CPL">
<text transform="matrix(0.9621 0 0 1.0333 728.25 497.69)" font-size="25.1" fill="#000" stroke="#000" stroke-width="0.151" stroke-linejoin="round">CPL</text>
</g>
<rect x="825.00" y="86.7" width="285.2" height="38.0" rx="2.9" ry="2.9" fill="#fff" fill-opacity="0.8" stroke="#cccccc" stroke-opacity="0.8" stroke-width="0.72"/>
<g stroke="#008000" fill="none"><line x1="844.20" y1="104.1" x2="865.70" y2="104.1" stroke-width="1.07"/><line x1="855.10" y1="93.39999999999999" x2="855.10" y2="114.8" stroke-width="1.07"/><line x1="844.20" y1="100.89999999999999" x2="844.20" y2="107.3" stroke-width="0.72"/><line x1="865.70" y1="100.89999999999999" x2="865.70" y2="107.3" stroke-width="0.72"/><line x1="851.90" y1="93.39999999999999" x2="858.30" y2="93.39999999999999" stroke-width="0.72"/><line x1="851.90" y1="114.8" x2="858.30" y2="114.8" stroke-width="0.72"/><circle cx="855.10" cy="104.1" r="2.1" fill="#008000" stroke="none"/></g>
<g aria-label="SKA absorption line">
<text transform="matrix(0.9697 0 0 1.0333 893.52 111.42)" font-size="21.45" fill="#000" stroke="#000" stroke-width="0.129" stroke-linejoin="round">SKA</text>
<text transform="matrix(1.1377 0 0 1.0060 942.48 111.26)" font-size="21.45" fill="#000" stroke="#000" stroke-width="0.120" stroke-linejoin="round">absorption</text>
<text transform="matrix(1.1429 0 0 1.0195 1063.99 111.42)" font-size="21.45" fill="#000" stroke="#000" stroke-width="0.119" stroke-linejoin="round">line</text>
</g>
<g aria-label="wCDM">
<text transform="matrix(1.0289 0 0 1.0333 1057.31 497.69)" font-size="25.1" fill="#000" stroke="#000" stroke-width="0.146" stroke-linejoin="round">wCDM</text>
</g>
<g aria-label="−0.10">
<text transform="matrix(1.2761 0 0 1.0532 70.47 576.10)" font-size="28.6" fill="#000" stroke="#000" stroke-width="0.147" stroke-linejoin="round">−</text>
<text transform="matrix(1.1178 0 0 1.0333 93.84 574.81)" font-size="28.6" fill="#000" stroke="#000" stroke-width="0.160" stroke-linejoin="round">0.10</text>
</g>
<g aria-label="−0.05">
<text transform="matrix(1.2761 0 0 1.0532 70.47 510.13)" font-size="28.6" fill="#000" stroke="#000" stroke-width="0.147" stroke-linejoin="round">−</text>
<text transform="matrix(1.1083 0 0 1.0333 93.85 508.84)" font-size="28.6" fill="#000" stroke="#000" stroke-width="0.160" stroke-linejoin="round">0.05</text>
</g>
<g aria-label="0.00">
<text transform="matrix(1.1178 0 0 1.0333 93.84 442.87)" font-size="28.6" fill="#000" stroke="#000" stroke-width="0.160" stroke-linejoin="round">0.00</text>
</g>
<g aria-label="0.05">
<text transform="matrix(1.1083 0 0 1.0333 93.85 376.89)" font-size="28.6" fill="#000" stroke="#000" stroke-width="0.160" stroke-linejoin="round">0.05</text>
</g>
<g aria-label="0.10">
<text transform="matrix(1.1178 0 0 1.0333 93.84 310.92)" font-size="28.6" fill="#000" stroke="#000" stroke-width="0.160" stroke-linejoin="round">0.10</text>
</g>
<g aria-label="0.15">
<text transform="matrix(1.1083 0 0 1.0333 93.85 244.95)" font-size="28.6" fill="#000" stroke="#000" stroke-width="0.160" stroke-linejoin="round">0.15</text>
</g>
<g aria-label="0.20">
<text transform="matrix(1.1178 0 0 1.0333 93.84 178.97)" font-size="28.6" fill="#000" stroke="#000" stroke-width="0.160" stroke-linejoin="round">0.20</text>
</g>
<g aria-label="0.25">
<text transform="matrix(1.1083 0 0 1.0333 93.85 113.00)" font-size="28.6" fill="#000" stroke="#000" stroke-width="0.160" stroke-linejoin="round">0.25</text>
</g>
<g aria-label="0.0">
<text transform="matrix(1.1067 0 0 1.0333 151.50 587.86)" font-size="28.6" fill="#000" stroke="#000" stroke-width="0.160" stroke-linejoin="round">0.0</text>
</g>
<g aria-label="0.2">
<text transform="matrix(1.0904 0 0 1.0333 206.20 587.86)" font-size="28.6" fill="#000" stroke="#000" stroke-width="0.162" stroke-linejoin="round">0.2</text>
</g>
<g aria-label="0.4">
<text transform="matrix(1.1063 0 0 1.0333 260.87 587.86)" font-size="28.6" fill="#000" stroke="#000" stroke-width="0.160" stroke-linejoin="round">0.4</text>
</g>
<g aria-label="0.6">
<text transform="matrix(1.1135 0 0 1.0333 315.55 587.86)" font-size="28.6" fill="#000" stroke="#000" stroke-width="0.160" stroke-linejoin="round">0.6</text>
</g>
<g aria-label="0.8">
<text transform="matrix(1.1089 0 0 1.0333 370.24 587.86)" font-size="28.6" fill="#000" stroke="#000" stroke-width="0.160" stroke-linejoin="round">0.8</text>
</g>
<g aria-label="1.0">
<text transform="matrix(1.1044 0 0 1.0333 425.02 587.86)" font-size="28.6" fill="#000" stroke="#000" stroke-width="0.161" stroke-linejoin="round">1.0</text>
</g>
<g aria-label="0.0">
<text transform="matrix(1.1067 0 0 1.0333 479.35 587.86)" font-size="28.6" fill="#000" stroke="#000" stroke-width="0.160" stroke-linejoin="round">0.0</text>
</g>
<g aria-label="0.2">
<text transform="matrix(1.0904 0 0 1.0333 534.05 587.86)" font-size="28.6" fill="#000" stroke="#000" stroke-width="0.162" stroke-linejoin="round">0.2</text>
</g>
<g aria-label="0.4">
<text transform="matrix(1.1063 0 0 1.0333 588.72 587.86)" font-size="28.6" fill="#000" stroke="#000" stroke-width="0.160" stroke-linejoin="round">0.4</text>
</g>
<g aria-label="0.6">
<text transform="matrix(1.1135 0 0 1.0333 643.40 587.86)" font-size="28.6" fill="#000" stroke="#000" stroke-width="0.160" stroke-linejoin="round">0.6</text>
</g>
<g aria-label="0.8">
<text transform="matrix(1.1089 0 0 1.0333 698.09 587.86)" font-size="28.6" fill="#000" stroke="#000" stroke-width="0.160" stroke-linejoin="round">0.8</text>
</g>
<g aria-label="1.0">
<text transform="matrix(1.1044 0 0 1.0333 752.87 587.86)" font-size="28.6" fill="#000" stroke="#000" stroke-width="0.161" stroke-linejoin="round">1.0</text>
</g>
<g aria-label="0.0">
<text transform="matrix(1.1067 0 0 1.0333 807.20 587.86)" font-size="28.6" fill="#000" stroke="#000" stroke-width="0.160" stroke-linejoin="round">0.0</text>
</g>
<g aria-label="0.2">
<text transform="matrix(1.0904 0 0 1.0333 861.90 587.86)" font-size="28.6" fill="#000" stroke="#000" stroke-width="0.162" stroke-linejoin="round">0.2</text>
</g>
<g aria-label="0.4">
<text transform="matrix(1.1063 0 0 1.0333 916.57 587.86)" font-size="28.6" fill="#000" stroke="#000" stroke-width="0.160" stroke-linejoin="round">0.4</text>
</g>
<g aria-label="0.6">
<text transform="matrix(1.1135 0 0 1.0333 971.25 587.86)" font-size="28.6" fill="#000" stroke="#000" stroke-width="0.160" stroke-linejoin="round">0.6</text>
</g>
<g aria-label="0.8">
<text transform="matrix(1.1089 0 0 1.0333 1025.94 587.86)" font-size="28.6" fill="#000" stroke="#000" stroke-width="0.160" stroke-linejoin="round">0.8</text>
</g>
<g aria-label="1.0">
<text transform="matrix(1.1044 0 0 1.0333 1080.72 587.86)" font-size="28.6" fill="#000" stroke="#000" stroke-width="0.161" stroke-linejoin="round">1.0</text>
</g>
<g aria-label="redshift z">
<text transform="matrix(1.1596 0 0 1.0195 568.81 628.06)" font-size="28.3" fill="#000" stroke="#000" stroke-width="0.156" stroke-linejoin="round">redshift</text>
<text transform="matrix(1.0569 0 0 0.9982 686.03 628.02)" font-size="28.3" fill="#000" stroke="#000" stroke-width="0.165" stroke-linejoin="round">z</text>
</g>
<g aria-label="v(cm/s)">
<text transform="matrix(0 -1.0670 0.9982 0 47.87 369.22)" font-size="28.4" fill="#000" stroke="#000" stroke-width="0.165" stroke-linejoin="round">v</text>
<text transform="matrix(0 -0.8227 0.9258 0 46.05 352.16)" font-size="28.4" fill="#000" stroke="#000" stroke-width="0.195" stroke-linejoin="round">(</text>
<text transform="matrix(0 -0.9895 1.0112 0 47.98 341.70)" font-size="28.4" fill="#000" stroke="#000" stroke-width="0.170" stroke-linejoin="round">c</text>
<text transform="matrix(0 -1.1308 1.0039 0 47.87 326.01)" font-size="28.4" fill="#000" stroke="#000" stroke-width="0.160" stroke-linejoin="round">m</text>
<text transform="matrix(0 -1.1911 1.0831 0 50.11 298.79)" font-size="28.4" fill="#000" stroke="#000" stroke-width="0.150" stroke-linejoin="round">/</text>
<text transform="matrix(0 -0.9448 1.0140 0 47.98 288.43)" font-size="28.4" fill="#000" stroke="#000" stroke-width="0.174" stroke-linejoin="round">s</text>
<text transform="matrix(0 -0.8227 0.9258 0 46.05 272.29)" font-size="28.4" fill="#000" stroke="#000" stroke-width="0.195" stroke-linejoin="round">)</text>
</g>
<text transform="matrix(0 -1.2019 1.5093 0 54.16 363.40)" font-size="28.4" fill="#000">˙</text>
</svg>
</body></html>
